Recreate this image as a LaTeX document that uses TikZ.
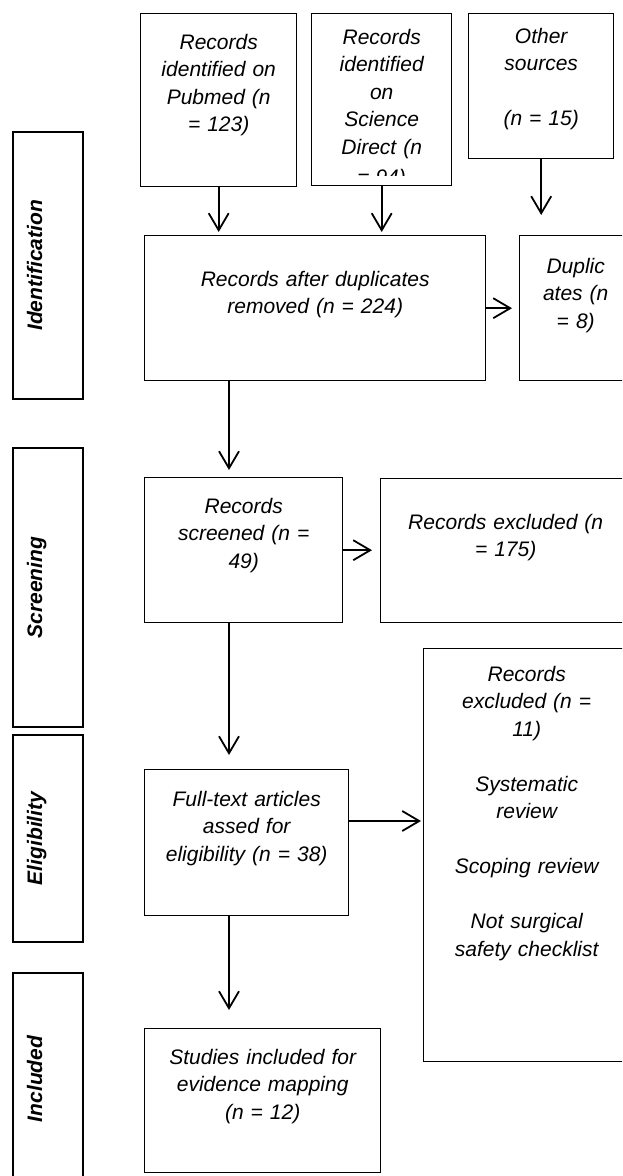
\documentclass[tikz,border=0pt]{standalone}
\usepackage{fontspec}
\setmainfont{Liberation Sans}
\usetikzlibrary{arrows.meta,calc}

\begin{document}
\begin{tikzpicture}[
            x=0.5pt, y=-0.5pt,
            every node/.style={font=\fontsize{10.5}{13.75}\selectfont\itshape},
            box/.style={draw, line width=0.7pt, anchor=north west, align=center, inner sep=0pt},
            phase/.style={draw, line width=0.7pt, rotate=90, inner sep=0pt,
                text height=14.5pt, text depth=20.5pt,
                font=\fontsize{10.5}{13.75}\selectfont\bfseries\itshape},
            arr/.style={draw, line width=0.9pt, -{Straight Barb[length=8.5pt,width=10pt]}}
            ]
            \useasboundingbox (0,0) rectangle (622,1176);
            \clip (0,0) rectangle (622,1176);

            % phases on the left
            \node[phase, minimum width=133.5pt] (identification) at (48,265.5) {Identification};
            \node[phase, minimum width=139.5pt] (screening) at (48,587.5) {Screening};
            \node[phase, minimum width=103.5pt] (eligibility) at (48,838.5) {Eligibility};
            \node[phase, minimum width=106pt] (included) at (48,1079) {Included};

            % sources
            \node[box, text width=78pt, text height=17.75pt, text depth=68.75pt] (pubmed) at (140,13)
            {Records\\identified on\\Pubmed (n\\= 123)};
            \node[box, text width=70pt, text height=15.25pt, text depth=70.75pt] (sdirect) at (311,13)
            {Records\\identified\\on\\Science\\Direct (n};
            \begin{scope}
                \clip (sdirect.north west) rectangle ($(sdirect.south east)+(0,-11)$);
                \node[anchor=base] (sdlast) at ($(sdirect.north)+(0,172)$) {= 94)};
            \end{scope}
            \node[box, text width=72.5pt, text height=14.75pt, text depth=57.75pt] (other) at (468,13)
            {Other\\sources\\[\baselineskip](n = 15)};

            \node[box, text width=170.5pt, text height=25.25pt, text depth=47.25pt] (dedup) at (144,235)
            {Records after duplicates\\removed (n = 224)};
            \node[box, text width=56pt, text height=18.75pt, text depth=53.75pt] (dupl) at (519,235)
            {Duplic\\ates (n\\= 8)};

            \node[box, text width=99pt, text height=17.75pt, text depth=54.75pt] (screened) at (144,477)
            {Records\\screened (n =\\49)};
            \node[box, text width=125pt, text height=25.25pt, text depth=46.75pt] (excl1) at (380,478)
            {Records excluded (n\\= 175)};

            \node[box, text width=102pt, text height=18.25pt, text depth=54.75pt] (fulltext) at (144,769)
            {Full-text articles\\assed for\\eligibility (n = 38)};
            \node[box, text width=103pt, text height=16.25pt, text depth=190.25pt] (excl2) at (423,648)
            {Records\\excluded (n =\\11)\\[\baselineskip]Systematic\\review\\[\baselineskip]Scoping review\\[\baselineskip]Not surgical\\safety checklist};

            \node[box, text width=118pt, text height=17.75pt, text depth=54.25pt] (studies) at (144,1028)
            {Studies included for\\evidence mapping\\(n = 12)};

            % connectors
            \coordinate (spine) at (229,0);
            \coordinate (ftout) at ($(fulltext.north east)+(0,52)$);

            \foreach \src in {pubmed,sdirect}{
                \draw[arr, shorten >=1.5pt] (\src.south) -- (\src.south |- dedup.north);
            }
            \draw[arr, shorten >=10pt] (other.south) -- (other.south |- dupl.north);
            \draw[arr, shorten >=3.5pt] (dedup.east) -- (dupl.west);
            \draw[arr, shorten >=4pt] (screened.east) -- (screened.east -| excl1.west);
            \draw[arr, shorten >=1pt] (ftout) -- (ftout -| excl2.west);

            \foreach \a/\b/\s in {dedup/screened/3.5pt, screened/fulltext/7pt, fulltext/studies/9pt}{
                \draw[arr, shorten >=\s] (\a.south -| spine) -- (\b.north -| spine);
            }
        \end{tikzpicture}
\end{document}
